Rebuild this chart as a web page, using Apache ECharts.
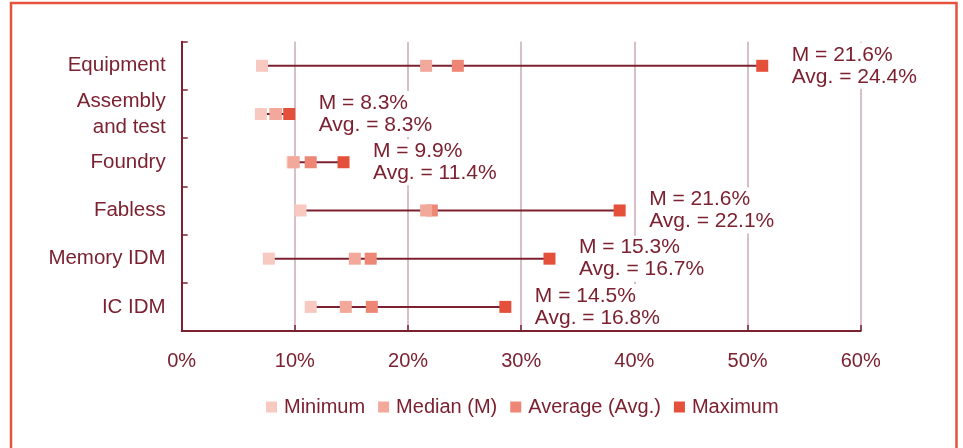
<!DOCTYPE html>
<html>
<head>
<meta charset="utf-8">
<script src="https://cdn.jsdelivr.net/npm/echarts@6/dist/echarts.min.js"></script>
<style>
  html, body { margin: 0; padding: 0; background: #ffffff; }
  #chart { width: 963px; height: 448px; }
</style>
</head>
<body>
<div id="chart"></div>
<script>
// Segment categories, top to bottom
const categories = ['Equipment', 'Assembly\nand test', 'Foundry', 'Fabless', 'Memory IDM', 'IC IDM'];
// Percent values per segment
const minimum = [7.1, 7.0, 9.8, 10.5, 7.7, 11.4];
const median  = [21.6, 8.3, 9.9, 21.6, 15.3, 14.5];
const average = [24.4, 8.3, 11.4, 22.1, 16.7, 16.8];
const maximum = [51.3, 9.5, 14.3, 38.7, 32.5, 28.6];
// Axis ticks
const xTicks = [0, 10, 20, 30, 40, 50, 60];

const TEXT = '#7b2130';
const FONT = '"Liberation Sans", Arial, sans-serif';
const COLORS = { min: '#f7c9c1', med: '#f2a89b', avg: '#ee8676', max: '#e5503b' };

const chart = echarts.init(document.getElementById('chart'), null, { renderer: 'canvas' });

const pointSeries = (name, values, color, z, extra) => Object.assign({
  name: name,
  type: 'scatter',
  symbol: 'rect',
  symbolSize: 12,
  z: z,
  itemStyle: { color: color, opacity: 1 },
  data: values.map((v, i) => [v, i])
}, extra || {});

chart.setOption({
  animation: false,
  backgroundColor: '#ffffff',
  textStyle: { fontFamily: FONT, color: TEXT },
  graphic: [{
    type: 'rect',
    silent: true,
    shape: { x: 11, y: 3, width: 945.5, height: 480 },
    style: { fill: 'none', stroke: '#e6523c', lineWidth: 2.5 }
  }],
  grid: { left: 181.7, right: 102.3, top: 41.7, bottom: 117 },
  legend: {
    left: 261,
    top: 392,
    icon: 'rect',
    itemWidth: 11,
    itemHeight: 11,
    itemGap: 13,
    data: ['Minimum', 'Median (M)', 'Average (Avg.)', 'Maximum'],
    textStyle: { fontFamily: FONT, fontSize: 20, color: TEXT, padding: [0, 0, 0, 2] }
  },
  xAxis: {
    type: 'value',
    min: xTicks[0],
    max: xTicks[xTicks.length - 1],
    interval: 10,
    axisLine: { show: true, lineStyle: { color: TEXT, width: 2 } },
    axisTick: { show: true, inside: true, length: 6, lineStyle: { color: TEXT, width: 1.5 } },
    splitLine: { show: true, lineStyle: { color: '#d8bfc7', width: 2 } },
    axisLabel: { margin: 20, fontSize: 20, fontFamily: FONT, color: TEXT, formatter: '{value}%' }
  },
  yAxis: {
    type: 'category',
    inverse: true,
    data: categories,
    axisLine: { show: true, lineStyle: { color: TEXT, width: 2 } },
    axisTick: { show: true, inside: true, length: 6, lineStyle: { color: TEXT, width: 1.5 } },
    splitLine: { show: false },
    axisLabel: { margin: 16, fontSize: 20.5, lineHeight: 26, fontFamily: FONT, color: TEXT, align: 'right' }
  },
  series: [
    {
      // Range line from minimum to maximum
      name: 'range',
      type: 'custom',
      z: 1,
      encode: { x: [0, 1], y: 2 },
      data: categories.map((c, i) => [minimum[i], maximum[i], i]),
      renderItem: (params, api) => {
        const s = api.coord([api.value(0), api.value(2)]);
        const e = api.coord([api.value(1), api.value(2)]);
        return {
          type: 'line',
          shape: { x1: s[0], y1: s[1], x2: e[0], y2: e[1] },
          style: { stroke: TEXT, lineWidth: 2 }
        };
      }
    },
    pointSeries('Minimum', minimum, COLORS.min, 2),
    pointSeries('Median (M)', median, COLORS.med, 4),
    pointSeries('Average (Avg.)', average, COLORS.avg, 3),
    pointSeries('Maximum', maximum, COLORS.max, 5, {
      label: {
        show: true,
        position: 'right',
        distance: 19.5,
        fontFamily: FONT,
        fontSize: 21,
        lineHeight: 22,
        color: TEXT,
        backgroundColor: '#ffffff',
        padding: [1, 4, 1, 4],
        formatter: p => 'M = ' + median[p.dataIndex].toFixed(1) + '%\nAvg. = ' + average[p.dataIndex].toFixed(1) + '%'
      }
    })
  ]
});
</script>
</body>
</html>
